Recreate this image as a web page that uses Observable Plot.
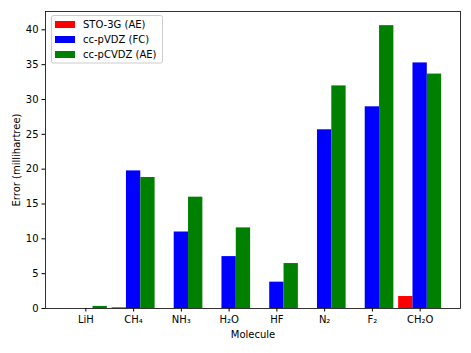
<!DOCTYPE html>
<html>
<head>
<meta charset="utf-8">
<script src="https://cdn.jsdelivr.net/npm/d3@7"></script>
<script src="https://cdn.jsdelivr.net/npm/@observablehq/plot@0.6"></script>
<style>
  body { margin: 0; background: #fff; }
  #chart { position: relative; width: 471px; height: 353px; }
  svg { font-family: "DejaVu Sans", sans-serif; }
</style>
</head>
<body>
<div id="chart"></div>
<script>
const molecules = ["LiH", "CH₄", "NH₃", "H₂O", "HF", "N₂", "F₂", "CH₂O"];
const seriesNames = ["STO-3G (AE)", "cc-pVDZ (FC)", "cc-pCVDZ (AE)"];
const seriesColors = ["red", "blue", "green"];
const sto3g   = [0.0, 0.1, 0.0, 0.0, 0.0, 0.0, 0.0, 1.72];
const ccpvdz  = [0.0, 19.75, 10.98, 7.45, 3.78, 25.65, 28.95, 35.25];
const ccpcvdz = [0.3, 18.8, 15.98, 11.57, 6.45, 31.95, 40.6, 33.65];
const yTicks = [0, 5, 10, 15, 20, 25, 30, 35, 40];

const barWidth = 0.3;
const offsets = [-barWidth, 0, barWidth];
const allSeries = [sto3g, ccpvdz, ccpcvdz];

const data = [];
allSeries.forEach((vals, s) => {
  vals.forEach((v, i) => {
    data.push({
      series: seriesNames[s],
      x1: i + offsets[s] - barWidth / 2,
      x2: i + offsets[s] + barWidth / 2,
      value: v
    });
  });
});

const chart = Plot.plot({
  width: 471,
  height: 353,
  marginLeft: 45,
  marginRight: 11,
  marginTop: 11,
  marginBottom: 45,
  style: { fontFamily: "DejaVu Sans, sans-serif", fontSize: "10px", color: "black", background: "white" },
  x: { domain: [-0.845, 7.845] },
  y: { domain: [0, 42.63] },
  color: { domain: seriesNames, range: seriesColors },
  marks: [
    Plot.rectY(data, { x1: "x1", x2: "x2", y: "value", fill: "series" }),
    Plot.frame({ stroke: "black", strokeWidth: 0.8 }),
    Plot.axisX(d3.range(molecules.length), {
      tickFormat: i => molecules[i],
      tickSize: 3.5, tickPadding: 3.5, fontSize: 10,
      label: "Molecule", labelAnchor: "center", labelOffset: 29, labelArrow: "none"
    }),
    Plot.axisY(yTicks, {
      tickSize: 3.5, tickPadding: 3.5, fontSize: 10,
      label: "Error (millihartree)", labelAnchor: "center", labelOffset: 33, labelArrow: "none"
    })
  ]
});

document.getElementById("chart").appendChild(chart);

// Legend (inside the plot area, upper left)
const svg = d3.select(chart);
const lg = svg.append("g")
  .attr("font-family", "DejaVu Sans, sans-serif")
  .attr("font-size", 10)
  .attr("text-anchor", "start");
lg.append("rect")
  .attr("x", 51.5).attr("y", 15.5).attr("width", 111).attr("height", 47.5)
  .attr("rx", 2).attr("fill", "white").attr("fill-opacity", 0.8)
  .attr("stroke", "#cccccc").attr("stroke-width", 1);
seriesNames.forEach((name, k) => {
  const cy = 24.5 + k * 15;
  lg.append("rect").attr("x", 55).attr("y", cy - 3.5).attr("width", 20).attr("height", 7)
    .attr("fill", seriesColors[k]);
  lg.append("text").attr("x", 83).attr("y", cy).attr("dy", "0.35em")
    .attr("text-anchor", "start")
    .attr("fill", "black").text(name);
});
</script>
</body>
</html>
